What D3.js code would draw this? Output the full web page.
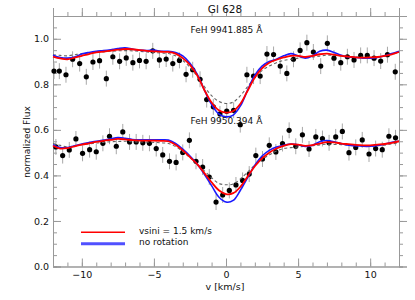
<!DOCTYPE html>
<html>
<head>
<meta charset="utf-8">
<script src="https://cdn.jsdelivr.net/npm/d3@7"></script>
<style>
body { margin: 0; background: #fff; }
svg text { font-family: "DejaVu Sans", sans-serif; fill: #111; }
.axis path, .axis line { stroke: #999; }
</style>
</head>
<body>
<svg id="chart" width="415" height="300"></svg>
<script>
// data points, upper line (FeH 9941.885)
var v_top = [-11.93, -11.56, -11.10, -10.64, -10.15, -9.69, -9.23, -8.77, -8.30, -7.85,
             -7.38, -6.92, -6.46, -6.00, -5.54, -5.08, -4.62, -4.15, -3.69, -3.23,
             -2.77, -2.31, -1.80, -1.34, -0.88, -0.42, 0.05, 0.53, 0.99, 1.45,
             1.91, 2.37, 2.84, 3.30, 3.76, 4.22, 4.68, 5.14, 5.61, 6.06,
             6.57, 7.03, 7.49, 7.96, 8.42, 8.88, 9.34, 9.80, 10.27, 10.73,
             11.20, 11.74];
var f_top = [0.858, 0.858, 0.842, 0.910, 0.891, 0.833, 0.898, 0.904, 0.825, 0.921,
             0.901, 0.916, 0.895, 0.905, 0.901, 0.947, 0.907, 0.911, 0.891, 0.905,
             0.844, 0.864, 0.822, 0.733, 0.701, 0.670, 0.682, 0.686, 0.623, 0.842,
             0.836, 0.836, 0.933, 0.931, 0.880, 0.848, 0.910, 0.949, 0.983, 0.942,
             0.880, 0.980, 0.915, 0.895, 0.921, 0.907, 0.927, 0.927, 0.915, 0.902,
             0.930, 0.855];

// data points, lower line (FeH 9950.394)
var v_bot = [-11.80, -11.33, -10.87, -10.41, -9.95, -9.46, -9.00, -8.54, -8.08, -7.61,
             -7.16, -6.69, -6.23, -5.77, -5.31, -4.84, -4.39, -3.92, -3.46, -3.00,
             -2.54, -2.08, -1.62, -1.16, -0.69, -0.23, 0.23, 0.69, 1.15, 1.61,
             2.07, 2.53, 3.00, 3.46, 3.92, 4.38, 4.84, 5.30, 5.76, 6.23,
             6.69, 7.15, 7.61, 8.07, 8.53, 9.00, 9.45, 9.92, 10.38, 10.84,
             11.30, 11.76];
var f_bot = [0.525, 0.487, 0.512, 0.560, 0.497, 0.513, 0.504, 0.541, 0.572, 0.528,
             0.591, 0.547, 0.547, 0.543, 0.541, 0.518, 0.490, 0.462, 0.457, 0.501,
             0.554, 0.462, 0.437, 0.393, 0.283, 0.314, 0.334, 0.358, 0.378, 0.406,
             0.487, 0.472, 0.532, 0.503, 0.540, 0.598, 0.528, 0.578, 0.516, 0.569,
             0.562, 0.543, 0.569, 0.593, 0.500, 0.523, 0.556, 0.494, 0.518, 0.513,
             0.572, 0.565];
var flux_err = 0.035;

// model grid and models
var v_model = [-12, -11.5, -11, -10.5, -10, -9.5, -9, -8.5, -8, -7.5,
               -7, -6.5, -6, -5.5, -5, -4.5, -4, -3.5, -3, -2.5,
               -2, -1.5, -1, -0.5, 0, 0.5, 1, 1.5, 2, 2.5,
               3, 3.5, 4, 4.5, 5, 5.5, 6, 6.5, 7, 7.5,
               8, 8.5, 9, 9.5, 10, 10.5, 11, 11.5, 12];
var red_top = [0.922, 0.914, 0.91, 0.917, 0.925, 0.933, 0.94, 0.944, 0.948, 0.952,
               0.955, 0.954, 0.95, 0.947, 0.945, 0.943, 0.942, 0.935, 0.915, 0.885,
               0.84, 0.775, 0.72, 0.686, 0.676, 0.683, 0.715, 0.772, 0.83, 0.87,
               0.895, 0.908, 0.918, 0.925, 0.925, 0.92, 0.925, 0.932, 0.935, 0.93,
               0.925, 0.922, 0.918, 0.917, 0.918, 0.92, 0.925, 0.932, 0.942];
var blue_top = [0.928, 0.918, 0.915, 0.92, 0.933, 0.94, 0.945, 0.948, 0.952, 0.957,
                0.96, 0.955, 0.95, 0.948, 0.95, 0.945, 0.945, 0.94, 0.925, 0.893,
                0.845, 0.775, 0.712, 0.67, 0.657, 0.665, 0.705, 0.775, 0.84, 0.88,
                0.9, 0.91, 0.925, 0.935, 0.925, 0.915, 0.925, 0.945, 0.95, 0.94,
                0.928, 0.92, 0.918, 0.915, 0.915, 0.918, 0.925, 0.935, 0.945];
var dash_top = [0.93, 0.927, 0.925, 0.93, 0.935, 0.938, 0.94, 0.942, 0.945, 0.947,
                0.948, 0.947, 0.945, 0.942, 0.94, 0.937, 0.935, 0.925, 0.905, 0.875,
                0.835, 0.79, 0.75, 0.725, 0.716, 0.722, 0.75, 0.79, 0.83, 0.86,
                0.88, 0.895, 0.905, 0.91, 0.915, 0.918, 0.92, 0.924, 0.928, 0.927,
                0.925, 0.922, 0.92, 0.919, 0.918, 0.92, 0.925, 0.932, 0.94];
var red_bot = [0.53, 0.518, 0.52, 0.528, 0.535, 0.541, 0.547, 0.552, 0.556, 0.56,
               0.558, 0.555, 0.553, 0.553, 0.553, 0.552, 0.55, 0.535, 0.51, 0.48,
               0.45, 0.41, 0.37, 0.335, 0.318, 0.322, 0.35, 0.395, 0.44, 0.475,
               0.5, 0.518, 0.53, 0.537, 0.535, 0.53, 0.533, 0.54, 0.546, 0.545,
               0.54, 0.537, 0.534, 0.532, 0.532, 0.535, 0.538, 0.543, 0.55];
var blue_bot = [0.535, 0.522, 0.522, 0.53, 0.538, 0.544, 0.55, 0.555, 0.56, 0.566,
                0.563, 0.558, 0.556, 0.556, 0.556, 0.556, 0.555, 0.54, 0.515, 0.485,
                0.45, 0.405, 0.355, 0.305, 0.283, 0.29, 0.335, 0.39, 0.445, 0.485,
                0.51, 0.525, 0.532, 0.538, 0.535, 0.527, 0.532, 0.548, 0.553, 0.548,
                0.54, 0.533, 0.53, 0.528, 0.528, 0.531, 0.537, 0.545, 0.55];
var dash_bot = [0.54, 0.532, 0.525, 0.53, 0.535, 0.538, 0.542, 0.545, 0.548, 0.549,
                0.55, 0.548, 0.547, 0.546, 0.545, 0.543, 0.54, 0.527, 0.505, 0.478,
                0.45, 0.42, 0.39, 0.365, 0.359, 0.362, 0.385, 0.415, 0.445, 0.47,
                0.49, 0.507, 0.518, 0.522, 0.525, 0.528, 0.53, 0.534, 0.537, 0.536,
                0.535, 0.532, 0.53, 0.529, 0.528, 0.53, 0.533, 0.538, 0.545];

var x_ticks = [-10, -5, 0, 5, 10];
var y_ticks = [0.0, 0.2, 0.4, 0.6, 0.8, 1.0];
var line_labels = ["FeH 9941.885 Å", "FeH 9950.394 Å"];
var legend_labels = ["vsini = 1.5 km/s", "no rotation"];

var plot = {left: 53, right: 399, top: 16, bottom: 266.5};
var svg = d3.select("#chart");
var x = d3.scaleLinear().domain([-12, 12]).range([plot.left, plot.right]);
var y = d3.scaleLinear().domain([0, 1.1]).range([plot.bottom, plot.top]);

drawAxes();
drawData(v_top, f_top);
drawData(v_bot, f_bot);
drawModel(dash_top, "#666", 1.1, "3,2.5");
drawModel(dash_bot, "#666", 1.1, "3,2.5");
drawModel(blue_top, "#1a1aff", 1.6, null);
drawModel(blue_bot, "#1a1aff", 1.6, null);
drawModel(red_top, "#ff0000", 1.8, null);
drawModel(red_bot, "#ff0000", 1.8, null);
drawLabels();

function drawAxes() {
    var minor_x = d3.range(-12, 12.01, 1);
    var minor_y = d3.range(0, 1.101, 0.05);
    var axes = [
        [d3.axisBottom(x), "translate(0," + plot.bottom + ")", true],
        [d3.axisTop(x), "translate(0," + plot.top + ")", false]
    ];
    axes.forEach(function(a) {
        svg.append("g").attr("class", "axis").attr("transform", a[1])
          .call(a[0].tickValues(minor_x).tickSize(a[2] ? -4 : 4).tickFormat(""));
        var g = svg.append("g").attr("class", "axis").attr("transform", a[1])
          .call(a[0].tickValues(x_ticks).tickSize(a[2] ? -8 : 8).tickPadding(5)
                .tickFormat(a[2] ? function(d) { return d == 0 ? "0" : d3.format("d")(d).replace("-", "\u2212"); } : ""));
        g.selectAll("text").style("font-size", "9.5px").attr("fill", "#111");
    });
    var yaxes = [
        [d3.axisLeft(y), "translate(" + plot.left + ",0)", true],
        [d3.axisRight(y), "translate(" + plot.right + ",0)", false]
    ];
    yaxes.forEach(function(a) {
        svg.append("g").attr("class", "axis").attr("transform", a[1])
          .call(a[0].tickValues(minor_y).tickSize(a[2] ? -4 : 4).tickFormat(""));
        var g = svg.append("g").attr("class", "axis").attr("transform", a[1])
          .call(a[0].tickValues(y_ticks).tickSize(a[2] ? -8 : 8).tickPadding(4)
                .tickFormat(a[2] ? d3.format(".1f") : ""));
        g.selectAll("text").style("font-size", "9.5px").attr("fill", "#111");
    });
    svg.selectAll(".axis path").attr("fill", "none");
}

function drawData(vs, fs) {
    var pts = vs.map(function(v, i) { return [v, fs[i]]; });
    var g = svg.append("g");
    g.selectAll("line")
      .data(pts)
      .enter()
      .append("line")
        .attr("x1", function(d) { return x(d[0]); })
        .attr("x2", function(d) { return x(d[0]); })
        .attr("y1", function(d) { return y(d[1] - flux_err); })
        .attr("y2", function(d) { return y(d[1] + flux_err); })
        .attr("stroke", "#a8a8a8")
        .attr("stroke-width", 1);
    g.selectAll("circle")
      .data(pts)
      .enter()
      .append("circle")
        .attr("cx", function(d) { return x(d[0]); })
        .attr("cy", function(d) { return y(d[1]); })
        .attr("r", 2.6)
        .attr("fill", "#000");
}

function drawModel(fs, color, width, dash) {
    var line = d3.line()
      .x(function(d, i) { return x(v_model[i]); })
      .y(function(d) { return y(d); })
      .curve(d3.curveCatmullRom);
    svg.append("path")
      .datum(fs)
      .attr("d", line)
      .attr("fill", "none")
      .attr("stroke", color)
      .attr("stroke-width", width)
      .attr("stroke-dasharray", dash);
}

function drawLabels() {
    svg.append("text")
      .attr("x", 225).attr("y", 13)
      .attr("text-anchor", "middle")
      .style("font-size", "10.5px")
      .text("Gl 628");
    svg.append("text")
      .attr("x", 225).attr("y", 290)
      .attr("text-anchor", "middle")
      .style("font-size", "9.5px")
      .text("v [km/s]");
    svg.append("text")
      .attr("transform", "translate(29.5,142) rotate(-90)")
      .attr("text-anchor", "middle")
      .style("font-size", "9px")
      .text("normalized Flux");
    svg.append("text").attr("x", 190.5).attr("y", 33)
      .style("font-size", "9px").text(line_labels[0]);
    svg.append("text").attr("x", 190.5).attr("y", 124)
      .style("font-size", "9px").text(line_labels[1]);

    // legend
    var legend_colors = ["#ff0000", "#5050ff"];
    var legend_widths = [1.6, 3];
    var legend_y = [232.3, 243.7];
    legend_labels.forEach(function(label, i) {
        svg.append("line")
          .attr("x1", 81).attr("x2", 125)
          .attr("y1", legend_y[i]).attr("y2", legend_y[i])
          .attr("stroke", legend_colors[i])
          .attr("stroke-width", legend_widths[i]);
        svg.append("text")
          .attr("x", 139).attr("y", legend_y[i] + 1.5)
          .style("font-size", "9px")
          .text(label);
    });
}
</script>
</body>
</html>
